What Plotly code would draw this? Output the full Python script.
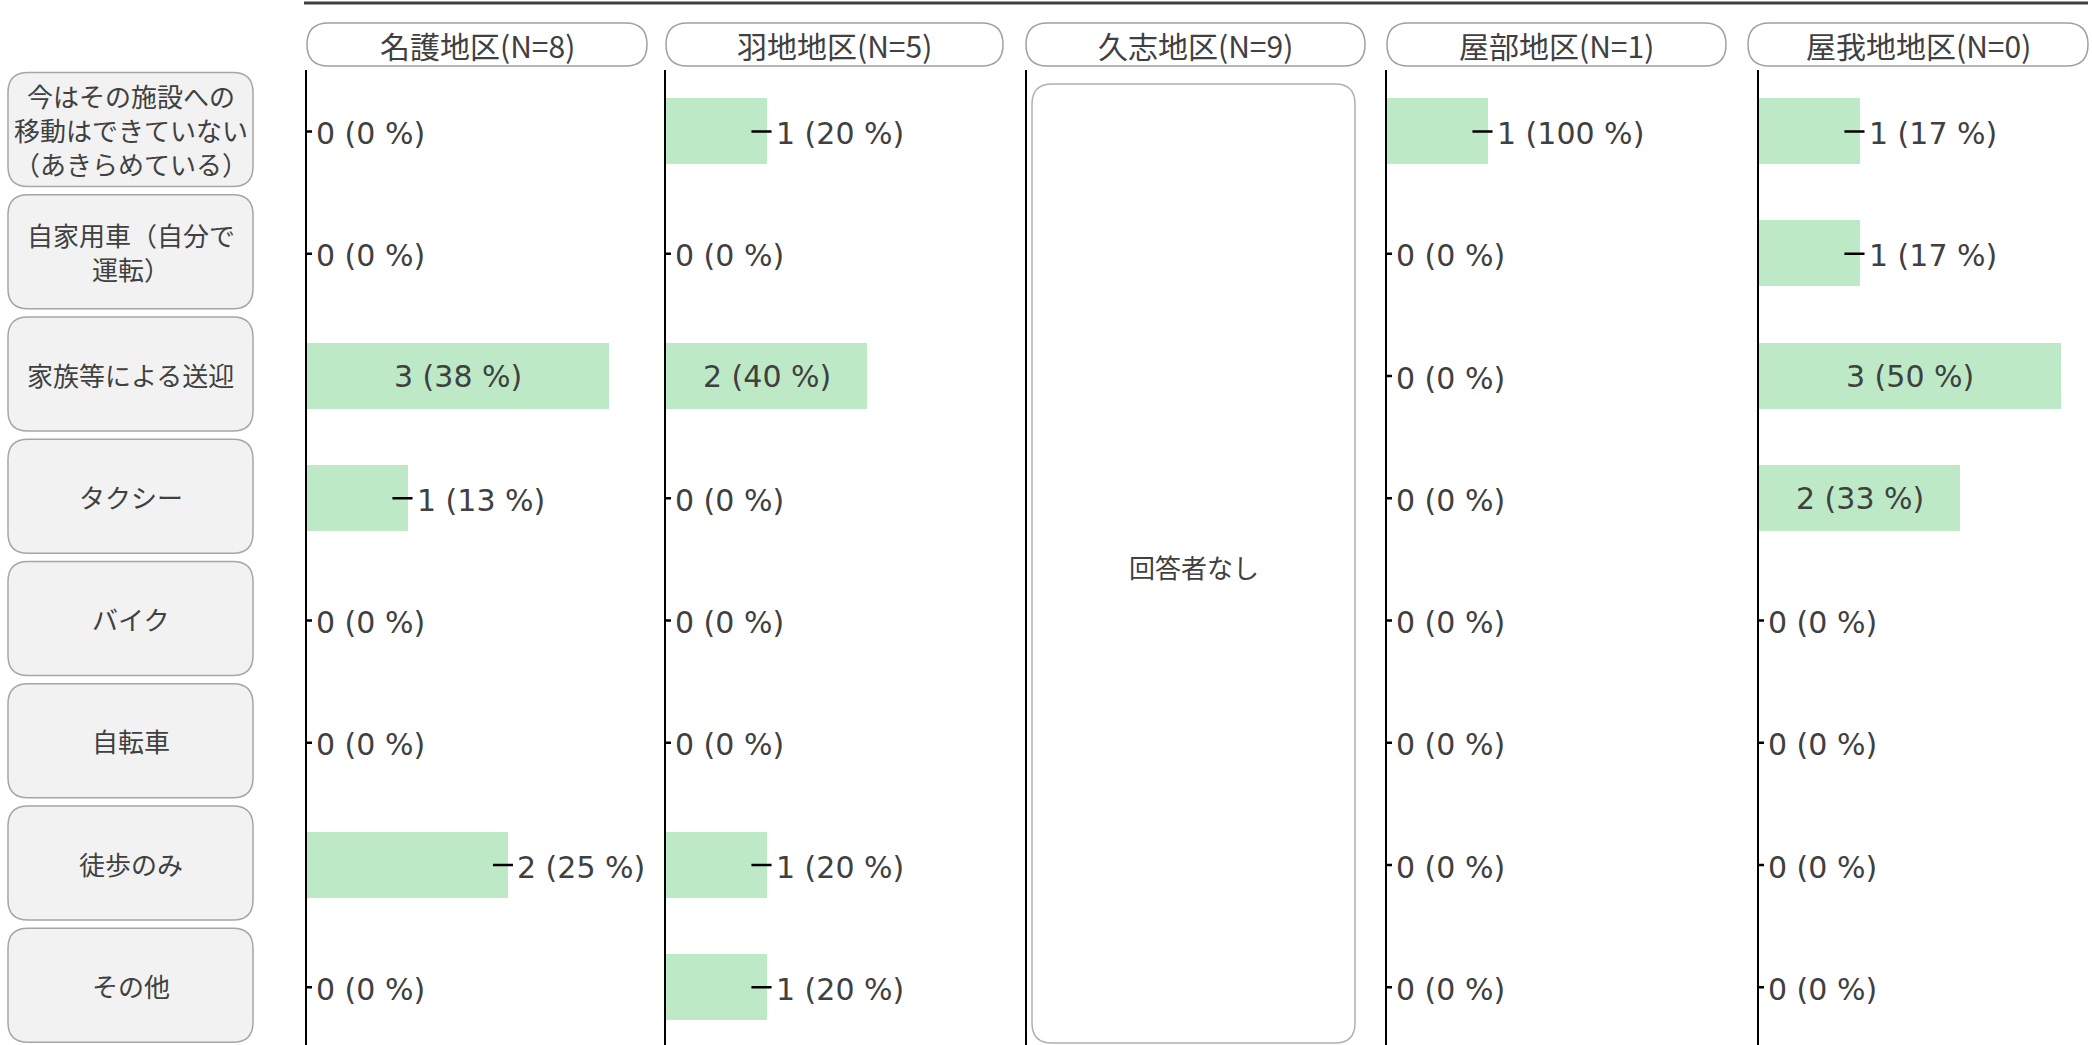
import plotly.graph_objects as go

# ---------------- data ----------------
categories = [
    "今はその施設への<br>移動はできていない<br>（あきらめている）",
    "自家用車（自分で<br>運転）",
    "家族等による送迎",
    "タクシー",
    "バイク",
    "自転車",
    "徒歩のみ",
    "その他",
]
districts = ["名護地区", "羽地地区", "久志地区", "屋部地区", "屋我地地区"]
district_n = [8, 5, 9, 1, 0]

nago_counts = [0, 0, 3, 1, 0, 0, 2, 0]
nago_pcts = [0, 0, 38, 13, 0, 0, 25, 0]
haneji_counts = [1, 0, 2, 0, 0, 0, 1, 1]
haneji_pcts = [20, 0, 40, 0, 0, 0, 20, 20]
kushi_counts = None  # 回答者なし
kushi_pcts = None
yabu_counts = [1, 0, 0, 0, 0, 0, 0, 0]
yabu_pcts = [100, 0, 0, 0, 0, 0, 0, 0]
yagaji_counts = [1, 1, 3, 2, 0, 0, 0, 0]
yagaji_pcts = [17, 17, 50, 33, 0, 0, 0, 0]
no_answer_text = "回答者なし"

panel_counts = [nago_counts, haneji_counts, kushi_counts, yabu_counts, yagaji_counts]
panel_pcts = [nago_pcts, haneji_pcts, kushi_pcts, yabu_pcts, yagaji_pcts]

# ---------------- layout constants (pixels) ----------------
W, H = 2092, 1045
panel_left = [307, 666, 1027, 1387, 1759]
panel_right = [647, 1003, 1365, 1726, 2088]
header_left = [307, 666, 1026, 1387, 1748]
header_right = [647, 1003, 1365, 1726, 2088]
PX_PER_COUNT = 100.5
ROW0 = 131.5
PITCH = 122.25
PLOT_TOP = ROW0 - PITCH / 2
BAR_COLOR = "#bde9c6"
TEXT_COLOR = "#404040"
NUM_FONT = "DejaVu Sans, Noto Sans CJK JP"
JP_FONT = "Noto Sans CJK JP, Noto Sans, sans-serif"


def fx(px):
    return px / W


def fy(py):
    return 1 - py / H


def rrect(x0, y0, x1, y1, r):
    pts = [
        ("M", [(x0 + r, y0)]),
        ("L", [(x1 - r, y0)]),
        ("Q", [(x1, y0), (x1, y0 + r)]),
        ("L", [(x1, y1 - r)]),
        ("Q", [(x1, y1), (x1 - r, y1)]),
        ("L", [(x0 + r, y1)]),
        ("Q", [(x0, y1), (x0, y1 - r)]),
        ("L", [(x0, y0 + r)]),
        ("Q", [(x0, y0), (x0 + r, y0)]),
    ]
    s = ""
    for cmd, ps in pts:
        s += cmd + " " + " ".join(f"{fx(a):.5f},{fy(b):.5f}" for a, b in ps) + " "
    return s + "Z"


fig = go.Figure()
shapes = []
annotations = []

y_bottom_val = 7.5 - (PLOT_TOP + 8 * PITCH - H) / PITCH

for i in range(5):
    ax = "" if i == 0 else str(i + 1)
    xref = "x" + ax
    yref = "y" + ax
    counts = panel_counts[i]
    pcts = panel_pcts[i]
    width_px = panel_right[i] - panel_left[i]
    xr = [0, width_px / PX_PER_COUNT]

    if counts is not None:
        fig.add_trace(go.Bar(
            x=counts, y=categories, orientation="h", width=0.54,
            marker=dict(color=BAR_COLOR, line=dict(width=0)),
            xaxis=xref, yaxis=yref, showlegend=False, hoverinfo="skip",
        ))
        for c, p, cat in zip(counts, pcts, categories):
            label = f"{c} ({p} %)"
            inside = c >= 2 and p >= 30
            if inside:
                annotations.append(dict(
                    x=c / 2, y=cat, xref=xref, yref=yref, text=label,
                    showarrow=False, xanchor="center", yanchor="middle",
                    font=dict(family=NUM_FONT, size=30, color=TEXT_COLOR),
                ))
            else:
                fig.add_trace(go.Scatter(
                    x=[c - 0.15, c + 0.05], y=[cat, cat], mode="lines",
                    line=dict(color="black", width=2.5),
                    xaxis=xref, yaxis=yref, showlegend=False, hoverinfo="skip",
                ))
                annotations.append(dict(
                    x=c, y=cat, xref=xref, yref=yref, text=label,
                    showarrow=False, xanchor="left", yanchor="middle", xshift=7, yshift=-2,
                    font=dict(family=NUM_FONT, size=30, color=TEXT_COLOR),
                ))
    else:
        fig.add_trace(go.Scatter(x=[None], y=[categories[0]], mode="lines",
                                 xaxis=xref, yaxis=yref, showlegend=False, hoverinfo="skip"))
        # no-respondent box
        shapes.append(dict(type="path", xref="paper", yref="paper",
                           path=rrect(panel_left[i] + 5, 84, panel_right[i] - 10, 1043, 20),
                           line=dict(color="#b0b0b0", width=1.5), fillcolor="white", layer="below"))
        annotations.append(dict(
            x=fx((panel_left[i] + 5 + panel_right[i] - 10) / 2), y=fy(566), xref="paper", yref="paper",
            text=no_answer_text, showarrow=False, xanchor="center", yanchor="middle",
            font=dict(family=JP_FONT, size=26, color=TEXT_COLOR),
        ))

    fig.layout["xaxis" + ax] = dict(
        domain=[fx(panel_left[i]), fx(panel_right[i])], range=xr, visible=False,
        anchor=yref, fixedrange=True,
    )
    fig.layout["yaxis" + ax] = dict(
        domain=[0, fy(PLOT_TOP)], range=[y_bottom_val, -0.5], type="category",
        categoryorder="array", categoryarray=categories,
        showticklabels=False, ticks="", showgrid=False, zeroline=False,
        showline=True, linecolor="black", linewidth=2, anchor=xref, fixedrange=True,
    )

    # header pill
    shapes.append(dict(type="path", xref="paper", yref="paper",
                       path=rrect(header_left[i], 23, header_right[i], 66, 21.5),
                       line=dict(color="#a0a0a0", width=1.5), fillcolor="white"))
    annotations.append(dict(
        x=fx((header_left[i] + header_right[i]) / 2), y=fy(45), xref="paper", yref="paper",
        text=f"{districts[i]}(N={district_n[i]})", showarrow=False,
        xanchor="center", yanchor="middle",
        font=dict(family=JP_FONT, size=30, color=TEXT_COLOR),
    ))

# row label boxes
for j, cat in enumerate(categories):
    cy = ROW0 + j * PITCH - 2
    shapes.append(dict(type="path", xref="paper", yref="paper",
                       path=rrect(8, cy - 57, 253, cy + 57, 20),
                       line=dict(color="#a6a6a6", width=1.5), fillcolor="#f2f2f2"))
    annotations.append(dict(
        x=fx(130.5), y=fy(cy), xref="paper", yref="paper", text=cat,
        showarrow=False, xanchor="center", yanchor="middle",
        font=dict(family=JP_FONT, size=26, color=TEXT_COLOR),
    ))

# top rule
shapes.append(dict(type="line", xref="paper", yref="paper",
                   x0=fx(304), x1=fx(2088), y0=fy(3), y1=fy(3),
                   line=dict(color="#404040", width=3)))

fig.update_layout(
    width=W, height=H,
    margin=dict(l=0, r=0, t=0, b=0),
    paper_bgcolor="white", plot_bgcolor="rgba(0,0,0,0)",
    shapes=shapes, annotations=annotations,
    showlegend=False, bargap=0,
)

fig.write_html("out.html", config={"displayModeBar": False},
               post_script="document.body.style.margin='0px';")
